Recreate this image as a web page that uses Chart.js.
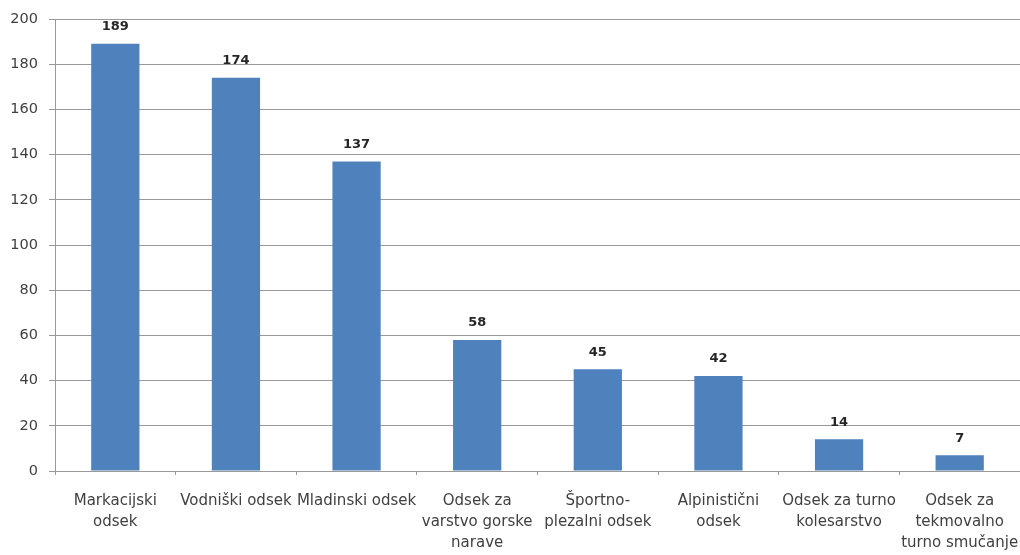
<!DOCTYPE html>
<html>
<head>
<meta charset="utf-8">
<script src="https://cdn.jsdelivr.net/npm/chart.js@4/dist/chart.umd.min.js"></script>
<style>
  body { margin: 0; background: #fff; }
  #wrap { width: 1020px; height: 555px; }
</style>
</head>
<body>
<div id="wrap"><canvas id="chart-bar" width="1020" height="555"></canvas></div>
<script>
const sections = [
    ['Markacijski', 'odsek'],
    ['Vodniški odsek'],
    ['Mladinski odsek'],
    ['Odsek za', 'varstvo gorske', 'narave'],
    ['Športno-', 'plezalni odsek'],
    ['Alpinistični', 'odsek'],
    ['Odsek za turno', 'kolesarstvo'],
    ['Odsek za', 'tekmovalno', 'turno smučanje']
]
const members = [189, 174, 137, 58, 45, 42, 14, 7]
const yTicks = [0, 20, 40, 60, 80, 100, 120, 140, 160, 180, 200]

const gridColor = '#999999'
const textColor = '#3f3f3f'
const fontFamily = "'DejaVu Sans', sans-serif"

// values above bars
const valueLabels = {
    id: 'valueLabels',
    afterDatasetsDraw(chart) {
        const ctx = chart.ctx
        const meta = chart.getDatasetMeta(0)
        ctx.save()
        ctx.font = 'bold 13px ' + fontFamily
        ctx.fillStyle = '#262626'
        ctx.textAlign = 'center'
        ctx.textBaseline = 'middle'
        meta.data.forEach((bar, i) => {
            ctx.fillText(String(members[i]), bar.x, bar.y - 17)
        })
        ctx.restore()
    }
}

function setBarChart()
{
    const ctx = document.getElementById('chart-bar')

    const data = {
        labels: sections,
        datasets: [
            {
                label: 'Člani',
                data: members,
                backgroundColor: '#4f81bd',
                borderWidth: 0,
                categoryPercentage: 1,
                barPercentage: 0.4,
            },
        ],
    }

    const config = {
        type: 'bar',
        data: data,
        options: {
            responsive: false,
            animation: false,
            layout: { padding: { top: 19, right: 0, left: 0, bottom: 0 } },
            plugins: {
                legend: { display: false },
                title: { display: false },
                tooltip: { enabled: false },
            },
            scales: {
                x: {
                    offset: true,
                    grid: {
                        offset: true,
                        drawOnChartArea: false,
                        drawTicks: true,
                        tickLength: 4,
                        color: gridColor,
                    },
                    border: { color: gridColor },
                    ticks: {
                        color: textColor,
                        font: { family: fontFamily, size: 15, lineHeight: 1.4 },
                        maxRotation: 0,
                        autoSkip: false,
                        padding: 16,
                    },
                    afterFit(scale) {
                        scale.height = 84
                        scale.paddingLeft = 0
                        scale.paddingRight = 0
                    },
                },
                y: {
                    min: 0,
                    max: 200,
                    afterBuildTicks(scale) {
                        scale.ticks = yTicks.map(v => ({ value: v }))
                    },
                    grid: {
                        color: gridColor,
                        tickLength: 6,
                    },
                    border: { color: gridColor },
                    ticks: {
                        color: textColor,
                        font: { family: fontFamily, size: 14.5 },
                        padding: 11,
                    },
                    afterFit(scale) {
                        scale.width = 55
                        scale.paddingTop = 0
                        scale.paddingBottom = 0
                    },
                },
            },
        },
        plugins: [valueLabels],
    }

    new Chart(ctx, config)
}

setBarChart()
</script>
</body>
</html>
